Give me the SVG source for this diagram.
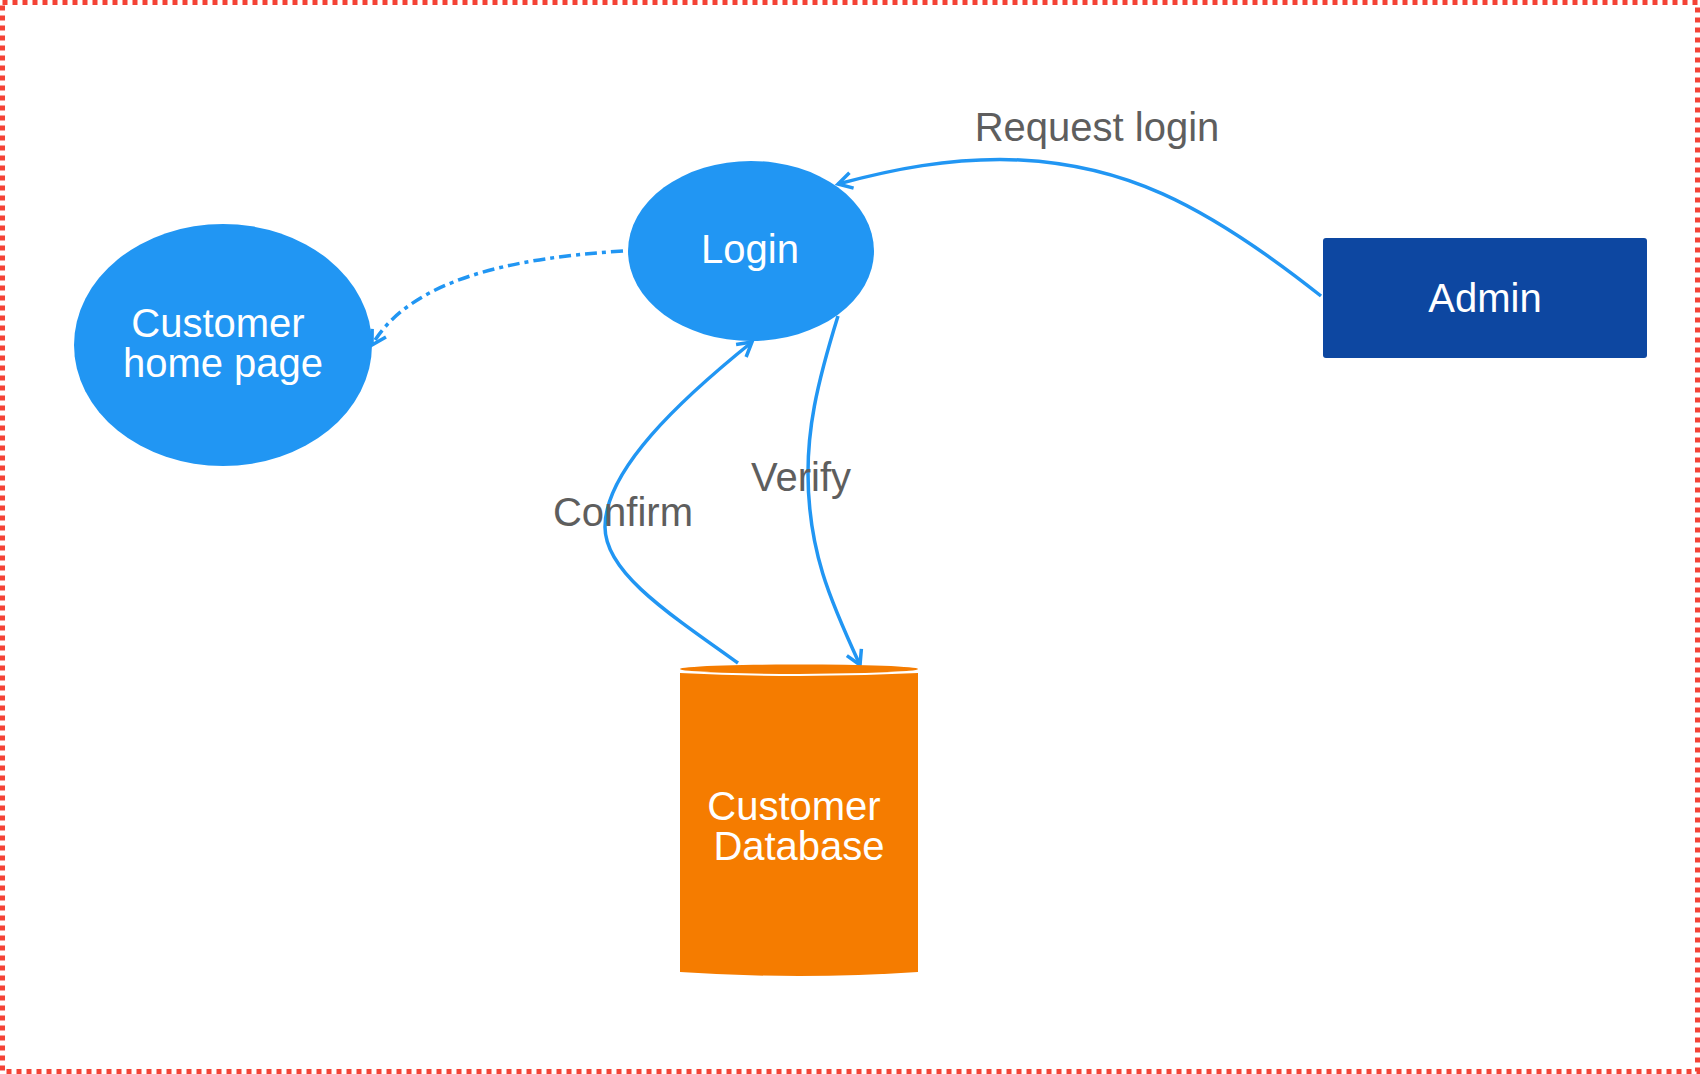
<svg xmlns="http://www.w3.org/2000/svg" width="1700" height="1074" viewBox="0 0 1700 1074">
<defs>
<style>
.node-text{font-family:"Liberation Sans",Arial,sans-serif;font-size:40px;fill:#ffffff;text-anchor:middle}
.label{font-family:"Liberation Sans",Arial,sans-serif;font-size:40px;fill:#5e5e5e;text-anchor:middle}
.conn{fill:none;stroke:#2196F3;stroke-width:3.5}
</style>
<marker id="arrow" markerUnits="userSpaceOnUse" markerWidth="24" markerHeight="24" viewBox="0 0 24 24" refX="20" refY="12" orient="auto">
<path d="M6,4 L20,12 L6,20" fill="none" stroke="#2196F3" stroke-width="3.5"/>
</marker>
</defs>
<rect x="0" y="0" width="1700" height="1074" fill="#ffffff"/>
<rect id="frame" x="2.5" y="2.5" width="1695" height="1069" fill="none" stroke="#F44336" stroke-width="5" stroke-dasharray="5 5"/>
<g id="connectors">
<path class="conn" d="M1321,296 C1200,200 1120,165 1020,160 C950,157 890,170 838,184" marker-end="url(#arrow)"/>
<path class="conn" d="M623,251 C510,258 410,280 372,345" stroke-dasharray="12 5 4 5" marker-end="url(#arrow)"/>
<path class="conn" d="M738,663 C660,608 605,570 605,527 C605,470 680,400 752,342" marker-end="url(#arrow)"/>
<path class="conn" d="M838,316 C815,390 808,430 808,473 C808,550 830,600 860,665" marker-end="url(#arrow)"/>
<text class="label" x="1097" y="141">Request login</text>
<text class="label" x="801" y="491">Verify</text>
<text class="label" x="623" y="526">Confirm</text>
</g>
<g id="login">
<ellipse cx="751" cy="251" rx="123" ry="90" fill="#2196F3"/>
<text class="node-text" x="750" y="263">Login</text>
</g>
<g id="customer-home-page">
<ellipse cx="223" cy="345" rx="149" ry="121" fill="#2196F3"/>
<text class="node-text" x="218" y="337">Customer</text>
<text class="node-text" x="223" y="377">home page</text>
</g>
<g id="admin">
<rect x="1323" y="238" width="324" height="120" rx="3" fill="#0D47A1"/>
<text class="node-text" x="1485" y="312">Admin</text>
</g>
<g id="customer-database">
<path d="M680,672 L918,672 L918,972 Q799,980 680,972 Z" fill="#F57C00"/>
<ellipse cx="799" cy="669" rx="119" ry="4.5" fill="#F57C00"/>
<path d="M680,672 Q799,678 918,672" fill="none" stroke="#ffffff" stroke-width="2"/>
<text class="node-text" x="794" y="820">Customer</text>
<text class="node-text" x="799" y="860">Database</text>
</g>
</svg>
